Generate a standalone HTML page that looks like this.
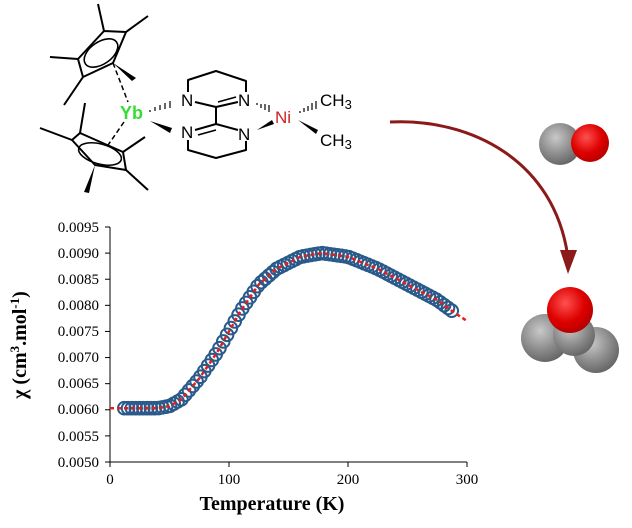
<!DOCTYPE html>
<html><head><style>
body{margin:0;background:#fff;width:632px;height:528px;overflow:hidden}
svg{display:block}
text{font-family:"Liberation Sans",Arial,sans-serif}
.s{font-family:"Liberation Serif","Times New Roman",serif}
</style></head><body>
<svg width="632" height="528" viewBox="0 0 632 528" xmlns="http://www.w3.org/2000/svg">
<defs>
<radialGradient id="g" cx="0.4" cy="0.35" r="0.75"><stop offset="0" stop-color="#c8c8c8"/><stop offset="0.55" stop-color="#8a8a8a"/><stop offset="1" stop-color="#5a5a5a"/></radialGradient>
<radialGradient id="r" cx="0.4" cy="0.35" r="0.75"><stop offset="0" stop-color="#ff5050"/><stop offset="0.55" stop-color="#dd0000"/><stop offset="1" stop-color="#a00"/></radialGradient>
</defs>
<g stroke="#000" stroke-width="2" fill="none" stroke-linejoin="round">
<polygon points="104,31 126,32 113,63 83,77 78,59"/>
<ellipse cx="101" cy="53" rx="19" ry="11" transform="rotate(-35 101 53)" stroke-width="1.6"/>
<line x1="104" y1="31" x2="98" y2="4"/><line x1="126" y1="32" x2="148" y2="16"/>
<line x1="78" y1="59" x2="50" y2="57"/><line x1="83" y1="77" x2="64" y2="105"/>
<line x1="113" y1="63" x2="128" y2="102" stroke-dasharray="5,3" stroke-width="1.5"/>
<polygon points="80,133 123,152 126,170 95,165 72,140"/>
<ellipse cx="100" cy="154" rx="22" ry="10" transform="rotate(15 100 154)" stroke-width="1.6"/>
<line x1="72" y1="140" x2="40" y2="128"/><line x1="80" y1="133" x2="85" y2="103"/>
<line x1="123" y1="152" x2="145" y2="137"/><line x1="126" y1="170" x2="148" y2="190"/>
<line x1="124" y1="122" x2="106" y2="148" stroke-dasharray="5,3" stroke-width="1.5"/>
<polyline points="188,92 188,80 216,71 246,81 246,92"/>
<polyline points="188,140 188,150 216,158 246,150 246,141"/>
<line x1="195" y1="102" x2="216" y2="107"/><line x1="216" y1="107" x2="238" y2="102"/>
<line x1="218" y1="102" x2="236" y2="97" stroke-width="1.6"/>
<line x1="216" y1="107" x2="216" y2="124"/>
<line x1="195" y1="130" x2="216" y2="124"/><line x1="216" y1="124" x2="238" y2="130"/>
<line x1="198" y1="135" x2="216" y2="130" stroke-width="1.6"/>
</g>
<polygon points="113,63 136,78 132,81" fill="#000"/>
<polygon points="95,165 84,192 89,193" fill="#000"/>
<polygon points="150,121 172,128 170,133" fill="#000"/>
<polygon points="257,130 272,120 274,124" fill="#000"/>
<polygon points="298,120 318,130 316,134" fill="#000"/>
<g stroke="#000" stroke-width="1.2">
<line x1="150" y1="110" x2="150" y2="112"/><line x1="155" y1="107" x2="155" y2="111"/><line x1="160" y1="105" x2="160" y2="110"/><line x1="165" y1="103" x2="165" y2="109"/><line x1="170" y1="101" x2="170" y2="108"/>
<line x1="257" y1="103" x2="257" y2="105"/><line x1="261" y1="104" x2="261" y2="108"/><line x1="265" y1="104" x2="265" y2="110"/><line x1="269" y1="105" x2="269" y2="112"/>
<line x1="300" y1="111" x2="300" y2="113"/><line x1="304" y1="108" x2="304" y2="112"/><line x1="308" y1="106" x2="308" y2="111"/><line x1="312" y1="103" x2="312" y2="110"/><line x1="316" y1="101" x2="316" y2="109"/>
</g>
<g font-size="17">
<text x="120" y="119" fill="#33dd33" font-weight="bold" font-size="18">Yb</text>
<text x="181" y="106">N</text><text x="238" y="106">N</text>
<text x="181" y="138">N</text><text x="238" y="140">N</text>
<text x="275" y="123" fill="#cc2222">Ni</text>
<text x="320" y="106">CH<tspan font-size="13" dy="3">3</tspan></text>
<text x="320" y="146">CH<tspan font-size="13" dy="3">3</tspan></text>
</g>
<path d="M390,122 C470,118 555,160 568,258" stroke="#8b1a1a" stroke-width="3" fill="none"/>
<polygon points="560,250 577,250 568,274" fill="#8b1a1a"/>
<circle cx="560" cy="144" r="21" fill="url(#g)"/>
<circle cx="590" cy="143" r="19" fill="url(#r)"/>
<circle cx="545" cy="338" r="24" fill="url(#g)"/>
<circle cx="596" cy="350" r="23" fill="url(#g)"/>
<circle cx="574" cy="335" r="21" fill="url(#g)"/>
<circle cx="570" cy="310" r="23" fill="url(#r)"/>
<g stroke="#000" stroke-width="1">
<line x1="110" y1="227" x2="110" y2="462"/><line x1="110" y1="462" x2="467" y2="462"/>
</g>
<g id="ticks" stroke="#000"></g>
<g font-size="15" fill="#000" text-anchor="end">
<text x="99" y="232" class="s">0.0095</text><text x="99" y="258" class="s">0.0090</text><text x="99" y="284" class="s">0.0085</text><text x="99" y="310" class="s">0.0080</text><text x="99" y="336" class="s">0.0075</text><text x="99" y="362" class="s">0.0070</text><text x="99" y="388" class="s">0.0065</text><text x="99" y="414" class="s">0.0060</text><text x="99" y="441" class="s">0.0055</text><text x="99" y="467" class="s">0.0050</text>
</g>
<g font-size="15" text-anchor="middle">
<text x="110" y="484" class="s">0</text><text x="229" y="484" class="s">100</text><text x="348" y="484" class="s">200</text><text x="467" y="484" class="s">300</text>
</g>
<text x="272" y="510" text-anchor="middle" font-size="20" font-weight="bold" class="s">Temperature (K)</text>
<text transform="translate(26,345) rotate(-90)" text-anchor="middle" font-size="20" font-weight="bold" class="s">χ (cm<tspan font-size="13" dy="-7">3</tspan><tspan dy="7">.mol</tspan><tspan font-size="13" dy="-7">-1</tspan><tspan dy="7">)</tspan></text>
<g id="data"></g>
</svg>
<script>
var ns="http://www.w3.org/2000/svg";
var K=[[0,.00603],[40,.00603],[50,.00607],[60,.0062],[75,.0066],[90,.0071],[100,.0075],[110,.0079],[125,.0084],[140,.0087],[160,.00893],[178,.00900],[200,.00893],[225,.0087],[250,.0084],[275,.0081],[290,.00785],[300,.0077]];
function chi(T){for(var i=1;i<K.length;i++){if(T<=K[i][0]){var a=K[i-1],b=K[i];var f=(T-a[0])/(b[0]-a[0]);f=f;return a[1]+(b[1]-a[1])*f;}}return .0077;}
function px(T){return 110+T*357/300}
function py(c){return 462-(c-0.005)*235/0.0045}
var t=document.getElementById("ticks");
for(var i=0;i<10;i++){var y=227+i*235/9;var l=document.createElementNS(ns,"line");l.setAttribute("x1",105);l.setAttribute("x2",110);l.setAttribute("y1",y);l.setAttribute("y2",y);t.appendChild(l);}
for(var i=0;i<4;i++){var x=110+i*119;var l=document.createElementNS(ns,"line");l.setAttribute("x1",x);l.setAttribute("x2",x);l.setAttribute("y1",462);l.setAttribute("y2",467);t.appendChild(l);}
var d=document.getElementById("data");var p="";
for(var T=0;T<=300;T+=1){p+=(T?"L":"M")+px(T).toFixed(1)+","+py(chi(T)).toFixed(1);}
for(var T=12;T<=290;T+=3.2){var c=document.createElementNS(ns,"circle");c.setAttribute("cx",px(T));c.setAttribute("cy",py(chi(T)));c.setAttribute("r",6.3);c.setAttribute("fill","none");c.setAttribute("stroke","#2a5a8a");c.setAttribute("stroke-width","2");d.appendChild(c);}
var pa=document.createElementNS(ns,"path");pa.setAttribute("d",p);pa.setAttribute("stroke","#e02020");pa.setAttribute("stroke-width","2.5");pa.setAttribute("fill","none");pa.setAttribute("stroke-dasharray","4,3");d.appendChild(pa);
</script>
</body></html>
